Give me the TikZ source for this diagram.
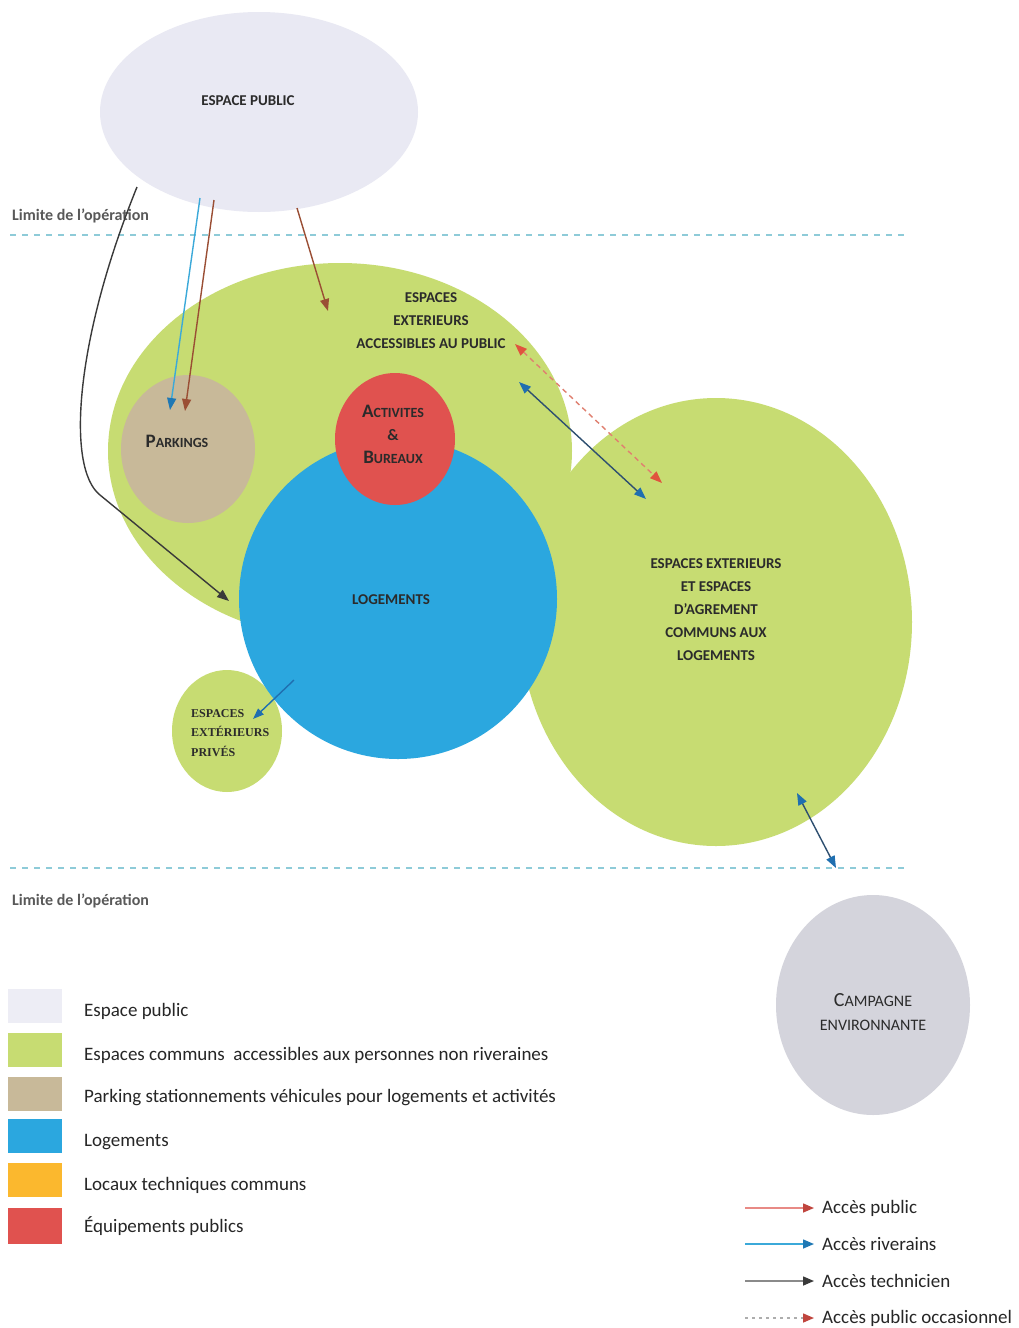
\documentclass[tikz,border=0pt]{standalone}
\usepackage{fontspec}
\setmainfont{Carlito}
\newfontfamily\serifbold{Liberation Serif}
\usetikzlibrary{shapes.geometric,arrows.meta}
\definecolor{pubc}{HTML}{E9E9F3}
\definecolor{greenc}{HTML}{C7DC72}
\definecolor{tanc}{HTML}{C8B999}
\definecolor{bluec}{HTML}{2BA7DF}
\definecolor{redc}{HTML}{E0524F}
\definecolor{orangec}{HTML}{FBB82E}
\definecolor{campc}{HTML}{D4D4DC}
\definecolor{limc}{HTML}{8ECBD8}
\definecolor{labc}{HTML}{2B2B2B}
\definecolor{rivc}{HTML}{3BA9D9}
\definecolor{rivhead}{HTML}{1F78B4}
\definecolor{brownc}{HTML}{9A4E34}
\definecolor{techc}{HTML}{3A3A3A}
\definecolor{publine}{HTML}{E88A85}
\definecolor{pubhead}{HTML}{C0453E}
\definecolor{dashc}{HTML}{E08070}
\definecolor{dashhead}{HTML}{E0533E}
\definecolor{navyc}{HTML}{2E4F70}
\definecolor{navyhead}{HTML}{1F6FB0}
\definecolor{greyline}{HTML}{8A8A8A}
\newcommand\scapw[2]{{\fontsize{19}{23}\selectfont #1}{\fontsize{14}{23}\selectfont #2}}
\begin{document}
\begin{tikzpicture}[x=1pt,y=-1pt,
  blob/.style={ellipse, inner sep=0pt, draw=none},
  lab/.style={font=\fontsize{15}{23}\selectfont\bfseries, text=labc, align=center, inner sep=0pt},
  limtext/.style={font=\fontsize{16}{18}\selectfont\bfseries, text=black!65, anchor=west, inner sep=0pt},
  limline/.style={draw=limc, line width=2pt, dash pattern=on 6pt off 6pt},
  legbox/.style={rectangle, inner sep=0pt, minimum width=54pt, minimum height=34pt, draw=none},
  legtext/.style={font=\fontsize{19}{21}\selectfont, text=black!85, anchor=west, inner sep=0pt},
  conn/.style={line width=1.4pt},
  rivarrow/.style={conn, draw=rivc, -{Triangle[length=12pt,width=9pt,color=rivhead]}},
  brownarrow/.style={conn, draw=brownc, -{Triangle[length=12pt,width=9pt,color=brownc]}},
  techarrow/.style={conn, draw=techc, -{Triangle[length=12pt,width=9pt,color=techc]}},
  dasharrow/.style={conn, draw=dashc, dash pattern=on 5pt off 4pt, {Triangle[length=12pt,width=9pt,color=dashhead]}-{Triangle[length=12pt,width=9pt,color=dashhead]}},
  navyarrow/.style={conn, draw=navyc, {Triangle[length=12pt,width=9pt,color=navyhead]}-{Triangle[length=12pt,width=9pt,color=navyhead]}},
  legpub/.style={conn, draw=publine, -{Triangle[length=11pt,width=9pt,color=pubhead]}},
  legriv/.style={conn, draw=rivc, -{Triangle[length=11pt,width=9pt,color=rivhead]}},
  legtech/.style={conn, draw=greyline, -{Triangle[length=11pt,width=9pt,color=techc]}},
  legocc/.style={conn, draw=greyline!70, dash pattern=on 3pt off 4pt, -{Triangle[length=11pt,width=9pt,color=pubhead]}}
]
\useasboundingbox (0,0) rectangle (1019,1328);
\fill[white] (0,0) rectangle (1019,1328);

% shapes
\node[blob, fill=greenc, minimum width=464pt, minimum height=376pt] (ext) at (340,451) {};
\node[blob, fill=greenc, minimum width=392pt, minimum height=448pt] (agr) at (716,622) {};
\node[blob, fill=tanc, minimum width=134pt, minimum height=148pt] (park) at (188,449) {};
\node[blob, fill=greenc, minimum width=110pt, minimum height=122pt] (priv) at (227,731) {};
\node[blob, fill=bluec, minimum width=318pt, minimum height=320pt] (loge) at (398,599) {};
\node[blob, fill=redc, minimum width=120pt, minimum height=132pt] (act) at (395,439) {};
\node[blob, fill=campc, minimum width=194pt, minimum height=220pt] (camp) at (873,1005) {};
\node[blob, fill=pubc, minimum width=318pt, minimum height=200pt] (pub) at (259,112) {};

% limits
\coordinate (lt1) at (10,235); \coordinate (lt2) at (905,235);
\coordinate (lb1) at (10,868); \coordinate (lb2) at (905,868);
\draw[limline] (lt1) -- (lt2);
\draw[limline] (lb1) -- (lb2);
\node[limtext] (limt) at (12,216) {Limite de l'opération};
\node[limtext] (limb) at (12,901) {Limite de l'opération};

% labels
\node[lab] (publ) at (248,101) {ESPACE PUBLIC};
\node[lab] (extl) at (431,321) {ESPACES\\EXTERIEURS\\ACCESSIBLES AU PUBLIC};
\node[lab] (parkl) at (177,441) {\scapw{P}{ARKINGS}};
\node[lab] (actl) at (393,434) {\scapw{A}{CTIVITES}\\{\fontsize{16}{23}\selectfont \&}\\\scapw{B}{UREAUX}};
\node[lab] (logl) at (391,600) {LOGEMENTS};
\node[lab] (agrl) at (716,610) {ESPACES EXTERIEURS\\ET ESPACES\\D'AGREMENT\\COMMUNS AUX\\LOGEMENTS};
\node[lab, font=\serifbold\fontsize{12}{19.5}\selectfont\bfseries, align=left, anchor=west] (privl) at (191,733) {ESPACES\\EXTÉRIEURS\\PRIVÉS};
\node[lab, font=\fontsize{16}{24}\selectfont] (campl) at (873,1012) {{\fontsize{20}{24}\selectfont C}AMPAGNE\\ENVIRONNANTE};

% connectors
\coordinate (techs) at (137,187);
\coordinate (techm) at (100,495);
\coordinate (teche) at (229,601);
\draw[techarrow] (techs) .. controls (75,340) and (66,468) .. (techm) -- (teche);

\coordinate (rivs) at (200,198);
\coordinate (rive) at (170,410);
\draw[rivarrow] (rivs) -- (rive);

\coordinate (brs) at (214,200);
\coordinate (bre) at (185,411);
\draw[brownarrow] (brs) -- (bre);

\coordinate (br2s) at (297,208);
\coordinate (br2e) at (328,311);
\draw[brownarrow] (br2s) -- (br2e);

\coordinate (das) at (515,344);
\coordinate (dae) at (662,483);
\draw[dasharrow] (das) -- (dae);

\coordinate (nvs) at (519,382);
\coordinate (nve) at (646,499);
\draw[navyarrow] (nvs) -- (nve);

\coordinate (cas) at (797,793);
\coordinate (cae) at (836,868);
\draw[navyarrow] (cas) -- (cae);

\coordinate (prs) at (294,680);
\coordinate (pre) at (253,719);
\draw[conn, draw=navyhead, -{Triangle[length=11pt,width=8pt,color=navyhead]}] (prs) -- (pre);

% legend boxes
\node[legbox, fill=pubc!80] (lg1) at (35,1006) {};
\node[legbox, fill=greenc] (lg2) at (35,1050) {};
\node[legbox, fill=tanc] (lg3) at (35,1094) {};
\node[legbox, fill=bluec] (lg4) at (35,1136) {};
\node[legbox, fill=orangec] (lg5) at (35,1180) {};
\node[legbox, fill=redc, minimum height=36pt] (lg6) at (35,1226) {};
\node[legtext] (lt1t) at (84,1011) {Espace public};
\node[legtext] (lt2t) at (84,1055) {Espaces communs \ accessibles aux personnes non riveraines};
\node[legtext] (lt3t) at (84,1098) {Parking stationnements véhicules pour logements et activités};
\node[legtext] (lt4t) at (84,1142) {Logements};
\node[legtext] (lt5t) at (84,1185) {Locaux techniques communs};
\node[legtext] (lt6t) at (84,1226) {Équipements publics};

% arrow legend
\node[legtext] (ra1) at (822,1208) {Accès public};
\node[legtext] (ra2) at (822,1244) {Accès riverains};
\node[legtext] (ra3) at (822,1281) {Accès technicien};
\node[legtext] (ra4) at (822,1318) {Accès public occasionnel};
\coordinate (rs1) at (745,1208);
\coordinate (rs2) at (745,1244);
\coordinate (rs3) at (745,1281);
\coordinate (rs4) at (745,1318);
\draw[legpub] (rs1) -- ([xshift=-8pt]ra1.west);
\draw[legriv] (rs2) -- ([xshift=-8pt]ra2.west);
\draw[legtech] (rs3) -- ([xshift=-8pt]ra3.west);
\draw[legocc] (rs4) -- ([xshift=-8pt]ra4.west);
\end{tikzpicture}
\end{document}
